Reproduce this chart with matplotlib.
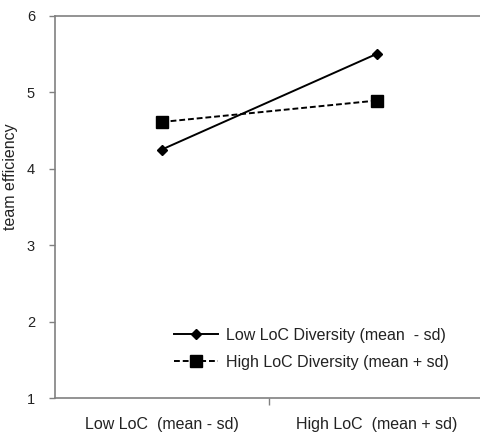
import matplotlib
matplotlib.use("Agg")
import matplotlib.pyplot as plt

categories = ["Low LoC  (mean - sd)", "High LoC  (mean + sd)"]
series_names = ["Low LoC Diversity (mean  - sd)", "High LoC Diversity (mean + sd)"]
low_div = [4.25, 5.50]
high_div = [4.61, 4.89]
y_ticks = [1, 2, 3, 4, 5, 6]

plt.rcParams['font.family'] = ['Liberation Sans', 'DejaVu Sans']

fig = plt.figure(figsize=(4.81, 4.40), dpi=100)
W, H = 481, 440
left, right, top, bottom = 54.5, 484, 15.7, 398
ax = fig.add_axes([left / W, 1 - bottom / H, (right - left) / W, (bottom - top) / H])

x = [0.5, 1.5]
ax.plot(x, low_div, color='black', lw=1.4, marker='D', markersize=5, label=series_names[0])
ax.plot(x, high_div, color='black', lw=1.4, ls=(0, (3, 1.5)), marker='s', markersize=8, label=series_names[1])

ax.set_xlim(0, 2)
ax.set_ylim(1, 6)
ax.set_yticks(y_ticks)
ax.set_xticks([1])
ax.set_xticklabels([])
ax.set_xticks(x, minor=True)
ax.set_xticklabels(categories, minor=True, fontsize=11.5, color='#222222')
ax.tick_params(axis='x', which='minor', length=0, pad=14)
ax.tick_params(axis='x', which='major', length=5, color='#808080', width=1)
ax.tick_params(axis='y', length=4, color='#808080', width=1, labelsize=10.5, labelcolor='#222222', pad=10)

for s in ['left', 'bottom', 'top']:
    ax.spines[s].set_color('#808080')
    ax.spines[s].set_linewidth(1.2)
ax.spines['right'].set_visible(False)

ax.set_ylabel("team efficiency", fontsize=11.5, color='#222222')
ax.yaxis.set_label_coords((18 - left) / (right - left), (bottom - 177) / (bottom - top))

leg = ax.legend(loc='center left', bbox_to_anchor=((174 - left) / (right - left), (bottom - 349) / (bottom - top)),
                frameon=False, fontsize=11.5, borderpad=0, borderaxespad=0,
                handlelength=2.75, handletextpad=0.5, labelspacing=0.75)
for t in leg.get_texts():
    t.set_color('#222222')

fig.savefig("out.png", dpi=100)
